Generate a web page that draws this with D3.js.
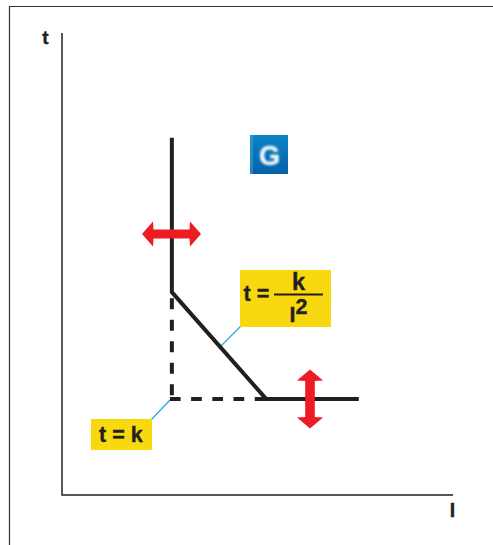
<!DOCTYPE html>
<html><head><meta charset="utf-8">
<script src="https://cdn.jsdelivr.net/npm/d3@7"></script>
<style>html,body{margin:0;padding:0;background:#fff}svg{display:block}text{font-family:"Liberation Sans",Arial,sans-serif;font-weight:700;fill:#231f20;stroke:#231f20;stroke-width:.4}</style>
</head><body><svg id="c" width="493" height="545"></svg>
<script>
// In axis percent (current I, time t)
const solidCurveI = [28.1, 28.1, 52.2, 75.9];
const solidCurveT = [77.3, 43.9, 20.8, 20.8];
const dashedVertI = [28.1, 28.1];
const dashedVertT = [43.9, 20.8];
const dashedHorizI = [27.6, 52.2];
const dashedHorizT = [20.8, 20.8];
const axisLabels = ["t", "I"];
const formula1 = "t = k";
const formula2Left = "t =";
const formula2Num = "k";
const formula2Den = ["I", "2"];
const badge = "G";

const svg = d3.select("#c");
const x = d3.scaleLinear().domain([0,100]).range([62,453]);
const y = d3.scaleLinear().domain([0,100]).range([495,33]);
const ink = "#231f20", red = "#ed1c24", yellow = "#f8d90f", cyan = "#29abe2";
const line = d3.line().x(d=>x(d[0])).y(d=>y(d[1]));
const zip = (a,b)=>a.map((v,i)=>[v,b[i]]);

// frame
svg.append("path").attr("d","M493 6.5H9.5V545").attr("fill","none").attr("stroke","#333").attr("stroke-width",1.2);
// axes
svg.append("path").attr("d",`M${x(0)} ${y(100)}V${y(0)}H${x(100)}`).attr("fill","none").attr("stroke",ink).attr("stroke-width",1.5);
svg.append("text").attr("x",45.5).attr("y",44).attr("text-anchor","middle").attr("font-size",19).text(axisLabels[0]);
svg.append("text").attr("x",452.5).attr("y",517).attr("text-anchor","middle").attr("font-size",19.5).text(axisLabels[1]);

// leaders
svg.append("path").attr("d","M241 326L219 348M170 400L151 420").attr("stroke",cyan).attr("stroke-width",1.3).attr("fill","none");

// dashed guides
svg.append("path").attr("d",line(zip(dashedVertI,dashedVertT))).attr("fill","none")
  .attr("stroke",ink).attr("stroke-width",4).attr("stroke-dasharray","11 10.5").attr("stroke-dashoffset",-6);
svg.append("path").attr("d",line(zip(dashedHorizI,dashedHorizT))).attr("fill","none")
  .attr("stroke",ink).attr("stroke-width",4).attr("stroke-dasharray","10.7 10.5");
// solid curve
svg.append("path").attr("d",line(zip(solidCurveI,solidCurveT))).attr("fill","none")
  .attr("stroke",ink).attr("stroke-width",4).attr("stroke-linejoin","miter");

// double arrows
svg.append("path").attr("fill",red).attr("transform","translate(171.5,234)")
  .attr("d","M-29.5 0L-18.5 -12.5L-18 -4.5H18L18.5 -12.5L29.5 0L18.5 12.5L18 4.5H-18L-18.5 12.5Z");
svg.append("path").attr("fill",red).attr("transform","translate(310,399)")
  .attr("d","M0 -29.5L13 -18.5L4.8 -18V18L13 18.5L0 29.5L-13 18.5L-4.8 18V-18L-13 -18.5Z");

// formula boxes
svg.append("rect").attr("x",240).attr("y",270).attr("width",91).attr("height",57).attr("fill",yellow);
svg.append("rect").attr("x",91).attr("y",419).attr("width",61).attr("height",31).attr("fill",yellow);
svg.append("text").attr("x",99).attr("y",442).attr("font-size",21.5).text(formula1);
svg.append("text").attr("x",243.5).attr("y",301).attr("font-size",21.5).text(formula2Left);
svg.append("text").attr("x",298.5).attr("y",290).attr("text-anchor","middle").attr("font-size",23.5).text(formula2Num);
svg.append("path").attr("d","M274 294.5H323").attr("stroke",ink).attr("stroke-width",2.2);
svg.append("text").attr("x",292.5).attr("y",322).attr("text-anchor","middle").attr("font-size",21.5).text(formula2Den[0]);
svg.append("text").attr("x",295.5).attr("y",313.5).attr("font-size",21.5).text(formula2Den[1]);

// G badge
const defs = svg.append("defs");
const g = defs.append("linearGradient").attr("id","bg").attr("x1",0).attr("x2",0).attr("y1",0).attr("y2",1);
g.append("stop").attr("offset",0).attr("stop-color","#0a86c6");
g.append("stop").attr("offset",1).attr("stop-color","#0560a8");
defs.append("filter").attr("id","blur").append("feGaussianBlur").attr("stdDeviation",0.9);
svg.append("rect").attr("x",250).attr("y",135).attr("width",38).attr("height",39).attr("fill","url(#bg)");
svg.append("rect").attr("x",250).attr("y",135).attr("width",3).attr("height",39).attr("fill","#3a9bd5").attr("opacity",.6);
svg.append("text").attr("x",269.5).attr("y",165).attr("text-anchor","middle").attr("font-size",27)
  .attr("filter","url(#blur)").style("fill","#f2f6fb").style("stroke","#f2f6fb").text(badge);
</script></body></html>
